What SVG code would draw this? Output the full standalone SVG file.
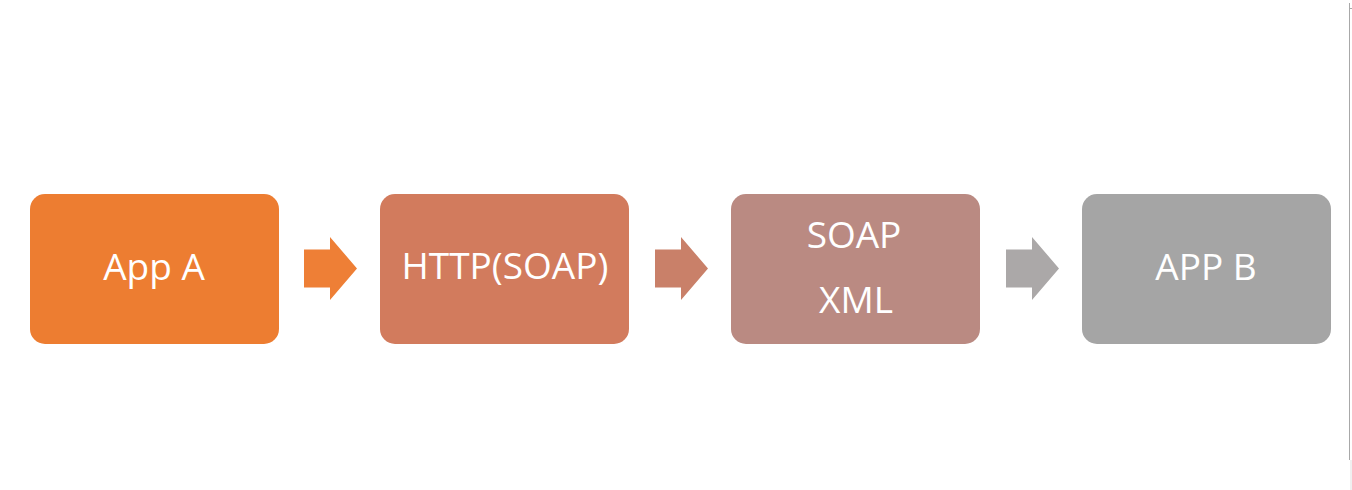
<svg xmlns="http://www.w3.org/2000/svg" width="1352" height="490" viewBox="0 0 1352 490">
  <style>
    .lbl { font-family: "Open Sans", "Liberation Sans", sans-serif; font-size: 37px; fill: #ffffff; text-anchor: middle; }
  </style>
  <rect x="0" y="0" width="1352" height="490" fill="#ffffff"/>
  <g id="edge-artifact">
    <line x1="1349.5" y1="3" x2="1349.5" y2="460" stroke="#a8a8a8" stroke-width="1"/>
    <line x1="1349.5" y1="8.5" x2="1352" y2="8.5" stroke="#a8a8a8" stroke-width="1"/>
    <rect x="1350" y="460" width="2" height="30" fill="#f0f0f0"/>
  </g>
  <g id="connectors">
    <polygon points="304,249.5 330,249.5 330,237 357,268.5 330,300 330,287.5 304,287.5" fill="#ee7f36"/>
    <polygon points="655,249.5 681,249.5 681,237 708,268.5 681,300 681,287.5 655,287.5" fill="#c98069"/>
    <polygon points="1006,249.5 1032,249.5 1032,237 1059,268.5 1032,300 1032,287.5 1006,287.5" fill="#aba8a8"/>
  </g>
  <g id="node-app-a">
    <rect x="30" y="194" width="249" height="150" rx="15" fill="#ed7d31"/>
    <text class="lbl" x="154" y="280">App A</text>
  </g>
  <g id="node-http">
    <rect x="380" y="194" width="249" height="150" rx="15" fill="#d27b5d"/>
    <text class="lbl" x="505" y="279">HTTP(SOAP)</text>
  </g>
  <g id="node-soap-xml">
    <rect x="731" y="194" width="249" height="150" rx="15" fill="#ba8a82"/>
    <text class="lbl" x="854" y="248">SOAP</text>
    <text class="lbl" x="856" y="313">XML</text>
  </g>
  <g id="node-app-b">
    <rect x="1082" y="194" width="249" height="150" rx="15" fill="#a5a5a5"/>
    <text class="lbl" x="1206" y="280">APP B</text>
  </g>
</svg>
